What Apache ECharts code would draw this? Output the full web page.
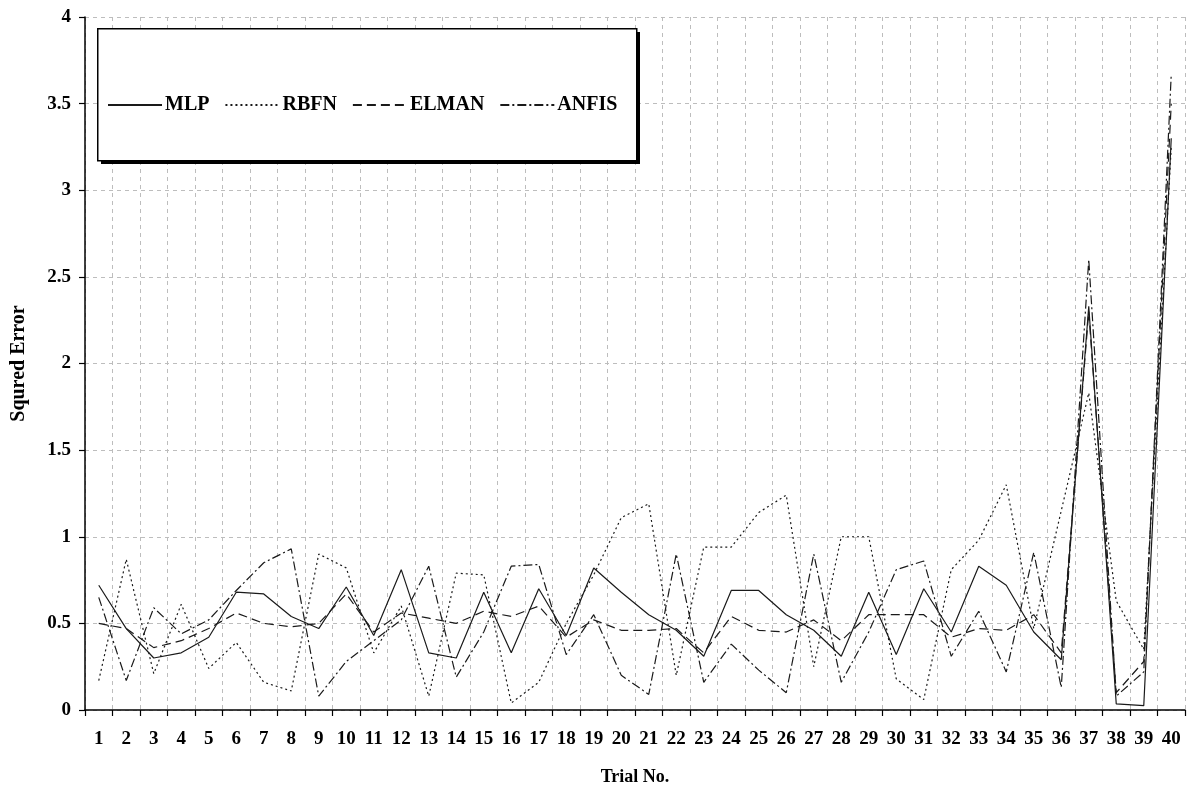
<!DOCTYPE html>
<html>
<head>
<meta charset="utf-8">
<title>Squared error per trial</title>
<script src="https://cdn.jsdelivr.net/npm/echarts@6/dist/echarts.min.js"></script>
<style>
  html, body { margin: 0; padding: 0; background: #fff; }
  #chart { width: 1189px; height: 792px; }
</style>
</head>
<body>
<div id="chart"></div>
<script>
// Trial numbers along the x axis
const trials = ['1','2','3','4','5','6','7','8','9','10','11','12','13','14','15','16','17','18','19','20',
                '21','22','23','24','25','26','27','28','29','30','31','32','33','34','35','36','37','38','39','40'];

// Squared error of each model per trial
const mlp = [0.72, 0.47, 0.30, 0.33, 0.42, 0.68, 0.67, 0.54, 0.47, 0.71,
             0.43, 0.81, 0.33, 0.30, 0.68, 0.33, 0.70, 0.43, 0.82, 0.68,
             0.55, 0.46, 0.31, 0.69, 0.69, 0.55, 0.46, 0.31, 0.68, 0.32,
             0.70, 0.45, 0.83, 0.72, 0.45, 0.29, 2.33, 0.035, 0.025, 3.30];

const rbfn = [0.17, 0.87, 0.21, 0.61, 0.24, 0.39, 0.16, 0.11, 0.90, 0.82,
              0.33, 0.60, 0.08, 0.79, 0.78, 0.04, 0.16, 0.50, 0.78, 1.11,
              1.19, 0.20, 0.94, 0.94, 1.14, 1.24, 0.25, 1.00, 1.00, 0.18,
              0.06, 0.81, 0.98, 1.30, 0.47, 1.15, 1.83, 0.63, 0.35, 3.25];

const elman = [0.50, 0.47, 0.36, 0.40, 0.47, 0.56, 0.50, 0.48, 0.50, 0.67,
               0.45, 0.56, 0.53, 0.50, 0.57, 0.54, 0.60, 0.42, 0.52, 0.46,
               0.46, 0.47, 0.33, 0.54, 0.46, 0.45, 0.52, 0.40, 0.55, 0.55,
               0.55, 0.42, 0.47, 0.46, 0.55, 0.33, 2.30, 0.10, 0.28, 3.50];

const anfis = [0.65, 0.17, 0.59, 0.44, 0.52, 0.69, 0.85, 0.93, 0.08, 0.28,
               0.40, 0.52, 0.83, 0.19, 0.45, 0.83, 0.84, 0.32, 0.55, 0.20,
               0.09, 0.90, 0.16, 0.38, 0.23, 0.10, 0.90, 0.16, 0.45, 0.81,
               0.86, 0.31, 0.57, 0.22, 0.91, 0.13, 2.60, 0.08, 0.22, 3.67];

const yTicks = { min: 0, max: 4, step: 0.5 };

const FONT = '"Liberation Serif", "Times New Roman", serif';
const INK = '#1a1a1a';

function lineSeries(name, data, type) {
  return {
    name: name,
    type: 'line',
    data: data,
    symbol: 'none',
    smooth: false,
    lineStyle: { color: INK, width: 1.2, type: type },
    itemStyle: { color: INK },
    emphasis: { disabled: true },
    z: 2
  };
}

const chart = echarts.init(document.getElementById('chart'), null, { renderer: 'canvas' });

chart.setOption({
  animation: false,
  backgroundColor: '#ffffff',
  grid: { left: 85, right: 4, top: 17, bottom: 82, containLabel: false, outerBoundsMode: 'none' },
  graphic: [
    // drop shadow behind the legend frame
    { type: 'rect', left: 101, top: 32, z: 5,
      shape: { width: 539, height: 132 },
      style: { fill: '#000' } },
    // legend frame
    { type: 'rect', left: 97, top: 28, z: 6,
      shape: { width: 539, height: 132 },
      style: { fill: '#fff', stroke: '#000', lineWidth: 1.5 } }
  ],
  legend: {
    left: 102, top: 90, z: 10,
    orient: 'horizontal',
    itemWidth: 54, itemHeight: 14, itemGap: 15,
    itemStyle: { opacity: 0 },
    textStyle: { fontFamily: FONT, fontWeight: 'bold', fontSize: 20, color: '#000', padding: [0, 0, 0, -2] },
    data: ['MLP', 'RBFN', 'ELMAN', 'ANFIS']
  },
  xAxis: {
    type: 'category',
    data: trials,
    boundaryGap: true,
    name: 'Trial No.',
    nameLocation: 'middle',
    nameGap: 58,
    nameTextStyle: { fontFamily: FONT, fontWeight: 'bold', fontSize: 18, color: '#000' },
    axisLine: { lineStyle: { color: '#000', width: 1.5 } },
    axisTick: { show: true, interval: 0, length: 6, lineStyle: { color: '#000', width: 1.2 } },
    axisLabel: { interval: 0, margin: 20, fontFamily: FONT, fontWeight: 'bold', fontSize: 19, color: '#000' },
    splitLine: { show: true, interval: 0, lineStyle: { color: '#bdbdbd', type: [4, 4], width: 1 } }
  },
  yAxis: {
    type: 'value',
    min: yTicks.min, max: yTicks.max, interval: yTicks.step,
    name: 'Squred Error',
    nameLocation: 'middle',
    nameGap: 56,
    nameRotate: 90,
    nameTextStyle: { fontFamily: FONT, fontWeight: 'bold', fontSize: 20, color: '#000' },
    axisLine: { show: true, lineStyle: { color: '#000', width: 1.5 } },
    axisTick: { show: true, length: 6, lineStyle: { color: '#000', width: 1.2 } },
    axisLabel: { margin: 14, fontFamily: FONT, fontWeight: 'bold', fontSize: 19, color: '#000' },
    splitLine: { show: true, lineStyle: { color: '#bdbdbd', type: [4, 4], width: 1 } }
  },
  series: [
    lineSeries('MLP', mlp, 'solid'),
    lineSeries('RBFN', rbfn, [2, 3]),
    lineSeries('ELMAN', elman, [9, 5]),
    lineSeries('ANFIS', anfis, [9, 3, 2, 3])
  ]
});
</script>
</body>
</html>
